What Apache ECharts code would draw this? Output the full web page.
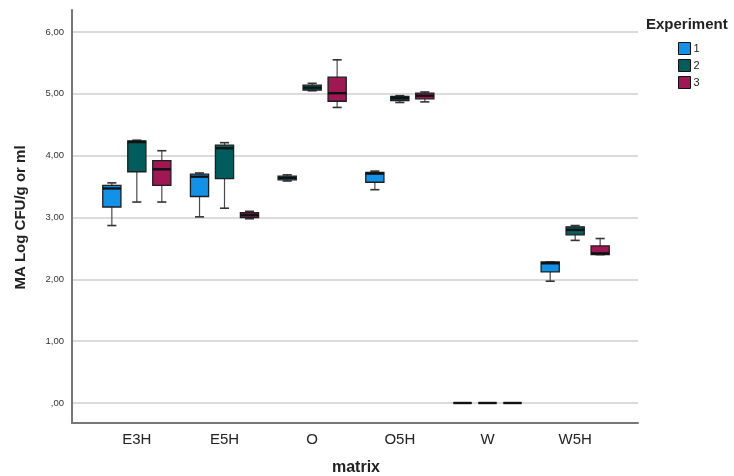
<!DOCTYPE html>
<html>
<head>
<meta charset="utf-8">
<script src="https://cdn.jsdelivr.net/npm/echarts@6/dist/echarts.min.js"></script>
<style>html,body{margin:0;padding:0;background:#fff}#c{width:734px;height:476px}</style>
</head>
<body>
<div id="c"></div>
<script>
// categories
const categories = ['E3H', 'E5H', 'O', 'O5H', 'W', 'W5H'];
const yTicks = [0, 1, 2, 3, 4, 5, 6];
const experiments = ['1', '2', '3'];
// [min, Q1, median, Q3, max] per category
const exp1 = [
  [2.87, 3.17, 3.47, 3.52, 3.56],
  [3.01, 3.34, 3.66, 3.70, 3.72],
  [3.59, 3.61, 3.64, 3.67, 3.69],
  [3.45, 3.57, 3.71, 3.73, 3.75],
  [0, 0, 0, 0, 0],
  [1.97, 2.12, 2.26, 2.28, 2.28]
];
const exp2 = [
  [3.25, 3.74, 4.22, 4.24, 4.25],
  [3.15, 3.63, 4.12, 4.17, 4.21],
  [5.05, 5.06, 5.10, 5.14, 5.17],
  [4.86, 4.89, 4.93, 4.96, 4.97],
  [0, 0, 0, 0, 0],
  [2.63, 2.72, 2.80, 2.85, 2.87]
];
const exp3 = [
  [3.25, 3.52, 3.78, 3.92, 4.08],
  [2.98, 3.00, 3.04, 3.08, 3.10],
  [4.78, 4.88, 5.01, 5.27, 5.55],
  [4.87, 4.92, 4.97, 5.01, 5.03],
  [0, 0, 0, 0, 0],
  [2.40, 2.40, 2.42, 2.54, 2.66]
];
const colors = ['#1192e8', '#005d5d', '#9f1853'];
const FONT = '"Liberation Sans", Arial, sans-serif';

const allExp = [exp1, exp2, exp3];

function makeRender(idx, color) {
  return function (params, api) {
    const c = api.value(0);
    const lo = api.coord([c, api.value(1)]);
    const q1 = api.coord([c, api.value(2)]);
    const md = api.coord([c, api.value(3)]);
    const q3 = api.coord([c, api.value(4)]);
    const hi = api.coord([c, api.value(5)]);
    const band = api.size([1, 0])[0];
    const n = 3;
    const avail = band * 0.8 - 2;
    const gap = avail / n * 0.3;
    const bw = (avail - gap * (n - 1)) / n;
    const off = bw / 2 - avail / 2 + idx * (gap + bw);
    const x = lo[0] + off;
    const hw = bw / 2, cw = bw / 4;
    const wStyle = { stroke: '#4a4a4a', lineWidth: 1.2 };
    const capStyle = { stroke: '#333', lineWidth: 1.6 };
    return {
      type: 'group',
      children: [
        { type: 'line', shape: { x1: x, y1: hi[1], x2: x, y2: q3[1] }, style: wStyle },
        { type: 'line', shape: { x1: x, y1: q1[1], x2: x, y2: lo[1] }, style: wStyle },
        { type: 'line', shape: { x1: x - cw, y1: hi[1], x2: x + cw, y2: hi[1] }, style: capStyle },
        { type: 'line', shape: { x1: x - cw, y1: lo[1], x2: x + cw, y2: lo[1] }, style: capStyle },
        { type: 'rect', shape: { x: x - hw, y: q3[1], width: bw, height: q1[1] - q3[1] },
          style: { fill: color, stroke: '#1e1e1e', lineWidth: 1.3 } },
        { type: 'line', shape: { x1: x - hw, y1: md[1], x2: x + hw, y2: md[1] },
          style: { stroke: '#111', lineWidth: 2.4 } }
      ]
    };
  };
}

const series = experiments.map((name, i) => ({
  name: name,
  type: 'custom',
  xAxisIndex: 2,
  yAxisIndex: 2,
  itemStyle: { color: colors[i] },
  encode: { x: 0, y: [1, 2, 3, 4, 5] },
  data: categories.map((cat, k) => [k].concat(allExp[i][k])),
  renderItem: makeRender(i, colors[i]),
  silent: true
}));

const chart = echarts.init(document.getElementById('c'), null, { renderer: 'canvas' });
chart.setOption({
  animation: false,
  backgroundColor: '#fff',
  textStyle: { fontFamily: FONT },
  title: {
    text: 'Experiment', left: 646, top: 17, padding: 0,
    textStyle: { fontSize: 15, fontWeight: 'bold', color: '#222', fontFamily: FONT }
  },
  legend: {
    orient: 'vertical', left: 678, top: 42, padding: 0,
    itemWidth: 12, itemHeight: 12, itemGap: 4, selectedMode: false,
    textStyle: { fontSize: 11, color: '#222', fontFamily: FONT, padding: [0, 0, 0, -2] },
    data: experiments.map((n, i) => ({
      name: n, icon: 'rect',
      itemStyle: { color: colors[i], borderColor: '#111', borderWidth: 1 }
    }))
  },
  grid: [
    { left: 72, right: 96, top: 10, bottom: 53, outerBoundsMode: 'none', containLabel: false },
    { left: 72, right: 96, top: 32, bottom: 73, outerBoundsMode: 'none', containLabel: false },
    { left: 93, right: 115, top: 32, bottom: 73, outerBoundsMode: 'none', containLabel: false }
  ],
  xAxis: [
    { gridIndex: 0, type: 'value', min: 0, max: 1,
      axisLine: { show: true, onZero: false, lineStyle: { color: '#777', width: 2 } },
      axisTick: { show: false }, axisLabel: { show: false }, splitLine: { show: false } },
    { gridIndex: 1, type: 'value', min: 0, max: 1, show: false },
    { gridIndex: 2, type: 'category', data: categories,
      axisLine: { show: false }, axisTick: { show: false },
      axisLabel: { margin: 29, fontSize: 15, color: '#222', fontFamily: FONT },
      name: 'matrix', nameLocation: 'middle', nameGap: 57,
      nameTextStyle: { fontSize: 16, fontWeight: 'bold', color: '#222', fontFamily: FONT } }
  ],
  yAxis: [
    { gridIndex: 0, type: 'value', min: 0, max: 1,
      axisLine: { show: true, onZero: false, lineStyle: { color: '#777', width: 2 } },
      axisTick: { show: false }, axisLabel: { show: false }, splitLine: { show: false } },
    { gridIndex: 1, type: 'value', min: yTicks[0], max: yTicks[yTicks.length - 1], interval: 1,
      axisLine: { show: false }, axisTick: { show: false },
      axisLabel: { margin: 8, fontSize: 9.5, color: '#333', fontFamily: FONT,
        formatter: v => v === 0 ? ',00' : v.toFixed(2).replace('.', ',') },
      splitLine: { show: true, lineStyle: { color: '#cfcfcf', width: 1.5 } },
      name: 'MA Log CFU/g or ml', nameLocation: 'middle', nameGap: 44,
      nameTextStyle: { fontSize: 15, fontWeight: 'bold', color: '#222', fontFamily: FONT } },
    { gridIndex: 2, type: 'value', min: 0, max: 6, show: false }
  ],
  series: series
});
</script>
</body>
</html>
